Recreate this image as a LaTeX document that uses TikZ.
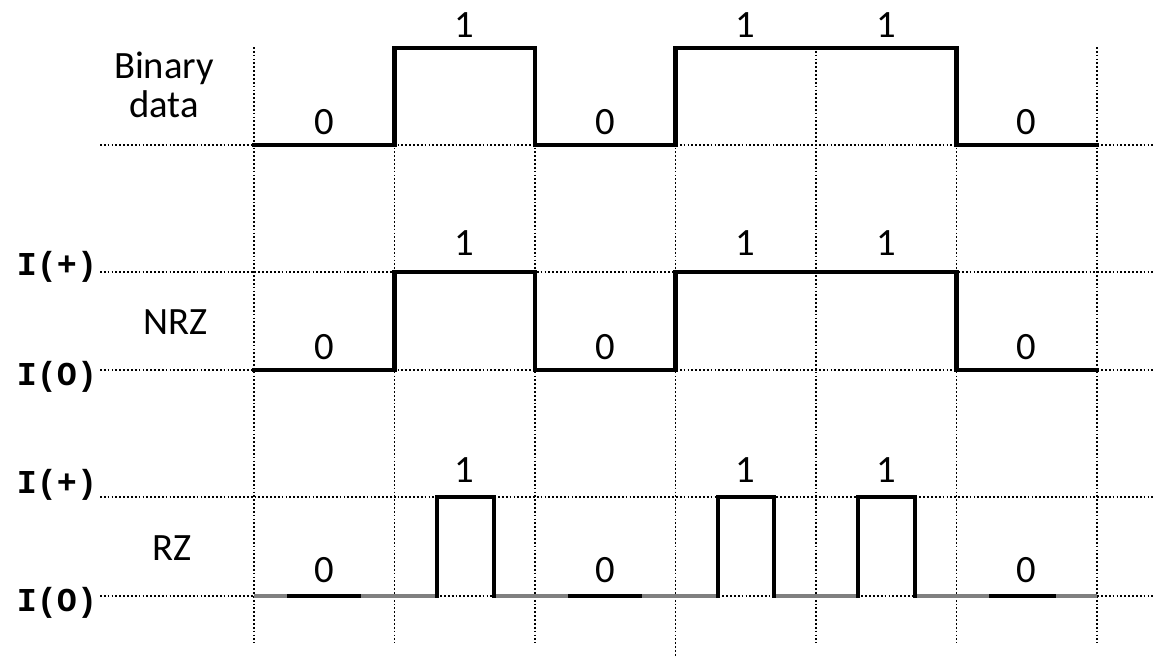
\documentclass[tikz,border=0pt]{standalone}
\usepackage{fontspec}
\setmainfont{Carlito}
\newfontfamily\levelfont{Liberation Mono}
\usepackage{tikz}

\begin{document}
\begin{tikzpicture}[x = 0.02cm, y = -0.02cm, font = \fontsize{22pt}{25pt}\selectfont]
\tikzset{
  grid/.style = {dash pattern = on 1pt off 1.2pt, line width = 1pt},
  signal/.style = {line width = 2.8pt, line cap = rect, line join = miter},
  idle/.style = {line width = 2.8pt, gray},
  bit/.style = {font = \fontsize{22pt}{25pt}\selectfont},
  level/.style = {font = \levelfont\bfseries\fontsize{19pt}{22pt}\selectfont},
}
\useasboundingbox (0,0) rectangle (1172,660);
% grid
\draw [grid] (254,47) -- (254,643);
\draw [grid] (394.5,47) -- (394.5,643);
\draw [grid] (535,47) -- (535,643);
\draw [grid] (675.5,47) -- (675.5,657);
\draw [grid] (816,47) -- (816,643);
\draw [grid] (956.5,47) -- (956.5,643);
\draw [grid] (1097,47) -- (1097,643);
\draw [grid] (100,145) -- (1153,145);
\draw [grid] (100,272) -- (1153,272);
\draw [grid] (100,370) -- (1153,370);
\draw [grid] (100,497) -- (1153,497);
\draw [grid] (100,596) -- (1153,596);
% labels
\node [align = center] (binaryLabel) at (164,85) {Binary\\[-3pt]data};
\node (nrzLabel) at (176,322) {NRZ};
\node (rzLabel) at (172,548) {RZ};
\node [level] (nrzHigh) at (57,267) {I(+)};
\node [level] (nrzLow) at (57,377) {I(O)};
\node [level] (rzHigh) at (57,485) {I(+)};
\node [level] (rzLow) at (57,603) {I(O)};
% binary data
\draw [signal] (254,145) -- (394.5,145) -- (394.5,48) -- (535,48) -- (535,145)
  -- (675.5,145) -- (675.5,48) -- (956.5,48) -- (956.5,145) -- (1097,145);
\node [bit] (binaryBitA) at (324,122) {0};
\node [bit] (binaryBitB) at (464,25) {1};
\node [bit] (binaryBitC) at (605,122) {0};
\node [bit] (binaryBitD) at (745,25) {1};
\node [bit] (binaryBitE) at (886,25) {1};
\node [bit] (binaryBitF) at (1026,122) {0};
% NRZ
\draw [signal] (254,370) -- (394.5,370) -- (394.5,272) -- (535,272) -- (535,370)
  -- (675.5,370) -- (675.5,272) -- (956.5,272) -- (956.5,370) -- (1097,370);
\node [bit] (nrzBitA) at (324,347) {0};
\node [bit] (nrzBitB) at (464,243) {1};
\node [bit] (nrzBitC) at (605,347) {0};
\node [bit] (nrzBitD) at (745,243) {1};
\node [bit] (nrzBitE) at (886,243) {1};
\node [bit] (nrzBitF) at (1026,347) {0};
% RZ
\draw [idle] (254,596) -- (437,596);
\draw [idle] (494,596) -- (718,596);
\draw [idle] (774,596) -- (858,596);
\draw [idle] (915,596) -- (1097,596);
\draw [signal] (289,596) -- (359,596);
\draw [signal] (570,596) -- (640,596);
\draw [signal] (991,596) -- (1054,596);
\draw [signal] (437,596) -- (437,497) -- (494,497) -- (494,596);
\draw [signal] (718,596) -- (718,497) -- (774,497) -- (774,596);
\draw [signal] (858,596) -- (858,497) -- (915,497) -- (915,596);
\node [bit] (rzBitA) at (324,570) {0};
\node [bit] (rzBitB) at (464,470) {1};
\node [bit] (rzBitC) at (605,570) {0};
\node [bit] (rzBitD) at (745,470) {1};
\node [bit] (rzBitE) at (886,470) {1};
\node [bit] (rzBitF) at (1026,570) {0};
\end{tikzpicture}
\end{document}
